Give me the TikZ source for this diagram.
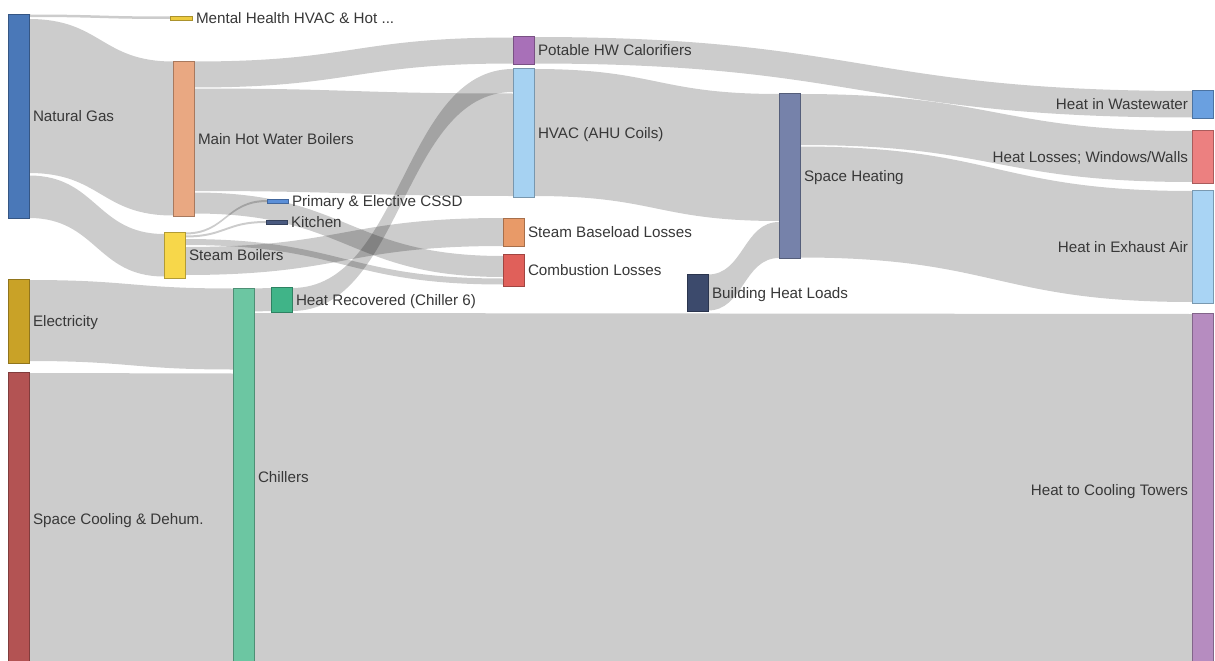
\documentclass[tikz,border=0pt]{standalone}
\usepackage{fontspec}
\setmainfont{Liberation Sans}
\usetikzlibrary{calc}
\definecolor{cNG}{HTML}{4A78B8}
\definecolor{cEL}{HTML}{C9A227}
\definecolor{cSC}{HTML}{B35353}
\definecolor{cMH}{HTML}{EDCB3E}
\definecolor{cMHWB}{HTML}{E9A882}
\definecolor{cSB}{HTML}{F7D74A}
\definecolor{cCH}{HTML}{6CC6A2}
\definecolor{cCSSD}{HTML}{5B8FD8}
\definecolor{cKIT}{HTML}{4A5A80}
\definecolor{cHR}{HTML}{40B488}
\definecolor{cPHW}{HTML}{A870B8}
\definecolor{cHVAC}{HTML}{A6D2F2}
\definecolor{cSBL}{HTML}{E89A68}
\definecolor{cCL}{HTML}{E0605A}
\definecolor{cBHL}{HTML}{3C4A6C}
\definecolor{cSH}{HTML}{7682AA}
\definecolor{cWW}{HTML}{6AA0E0}
\definecolor{cHL}{HTML}{EC8080}
\definecolor{cEA}{HTML}{A9D4F4}
\definecolor{cHCT}{HTML}{B68CC0}
\definecolor{cTXT}{HTML}{383838}
\tikzset{
  sbox/.style={rectangle, inner sep=0pt, outer sep=0pt, line width=0.8pt},
  flow/.style={fill=black, fill opacity=0.2},
  lbl/.style={inner sep=0pt, outer sep=0pt, text=cTXT, font=\fontsize{15.2}{18}\selectfont, text height=13pt, text depth=2pt},
}
% node: name, x left, y top, width, height, colour
\newcommand{\nd}[6]{\node[sbox, fill=#6, draw=#6!72!black, minimum width=#4pt, minimum height=#5pt, anchor=north west] (#1) at (#2,#3) {};}
% flow: source, offset from source top, width, target, offset from target top
\newcommand{\lnk}[5]{%
  \fill[flow] let \p1=($(#1.north east)+(0,#2)$), \p2=($(#4.north west)+(0,#5)$), \n1={0.5*(\x1+\x2)} in
    (\x1,\y1) .. controls (\n1,\y1) and (\n1,\y2) .. (\x2,\y2)
    -- (\x2,{\y2-#3pt}) .. controls (\n1,{\y2-#3pt}) and (\n1,{\y1-#3pt}) .. (\x1,{\y1-#3pt}) -- cycle;}
\begin{document}
\begin{tikzpicture}[x=1pt,y=-1pt]
\useasboundingbox (0,0) rectangle (1215,661);
\fill[white] (0,0) rectangle (1215,661);
\clip (0,0) rectangle (1215,661);
% nodes (positions)
\nd{ng}{8}{14}{21}{204}{cNG}
\nd{el}{8}{279}{21}{84}{cEL}
\nd{sc}{8}{372}{21}{294}{cSC}
\nd{mh}{170}{16}{22}{4}{cMH}
\nd{mhwb}{173}{61}{21}{155}{cMHWB}
\nd{sb}{164}{232}{21}{46}{cSB}
\nd{ch}{233}{288}{21}{378}{cCH}
\nd{cssd}{267}{199}{21}{4}{cCSSD}
\nd{kit}{266}{220}{21}{4}{cKIT}
\nd{hr}{271}{287}{21}{25}{cHR}
\nd{phw}{513}{36}{21}{28}{cPHW}
\nd{hvac}{513}{68}{21}{129}{cHVAC}
\nd{sbl}{503}{218}{21}{28}{cSBL}
\nd{cl}{503}{254}{21}{32}{cCL}
\nd{bhl}{687}{274}{21}{37}{cBHL}
\nd{sh}{779}{93}{21}{165}{cSH}
\nd{ww}{1192}{90}{21}{28}{cWW}
\nd{hl}{1192}{130}{21}{53}{cHL}
\nd{ea}{1192}{190}{21}{113}{cEA}
\nd{hct}{1192}{313}{21}{353}{cHCT}
% flows
\lnk{ng}{0.5}{2.5}{mh}{0.5}
\lnk{ng}{5}{154}{mhwb}{0.5}
\lnk{ng}{161.5}{42.5}{sb}{2}
\lnk{mhwb}{0.5}{26}{phw}{1.5}
\lnk{mhwb}{27.5}{102.5}{hvac}{25.5}
\lnk{mhwb}{131.5}{21}{cl}{2}
\lnk{sb}{0.5}{2}{cssd}{1}
\lnk{sb}{3.5}{2}{kit}{1}
\lnk{sb}{7}{6}{cl}{24.5}
\lnk{sb}{15}{28}{sbl}{0}
\lnk{el}{1}{81}{ch}{0.5}
\lnk{sc}{1}{400}{ch}{85.5}
\lnk{ch}{0.5}{23}{hr}{1}
\lnk{ch}{25}{400}{hct}{1}
\lnk{hr}{1}{23}{hvac}{1}
\lnk{hvac}{1}{127}{sh}{1}
\lnk{bhl}{0.5}{36}{sh}{129}
\lnk{phw}{1}{26.5}{ww}{1}
\lnk{sh}{1}{51}{hl}{1}
\lnk{sh}{53.5}{111}{ea}{1}
% redraw nodes on top of flows
\foreach \n/\c in {ng/cNG,el/cEL,sc/cSC,mh/cMH,mhwb/cMHWB,sb/cSB,ch/cCH,cssd/cCSSD,kit/cKIT,hr/cHR,phw/cPHW,hvac/cHVAC,sbl/cSBL,cl/cCL,bhl/cBHL,sh/cSH,ww/cWW,hl/cHL,ea/cEA,hct/cHCT}
  \draw[fill=\c, draw=\c!72!black, line width=0.8pt] (\n.north west) rectangle (\n.south east);
% labels
\node[lbl, anchor=west] (t-ng) at ([xshift=4pt]ng.east) {Natural Gas};
\node[lbl, anchor=west] (t-el) at ([xshift=4pt]el.east) {Electricity};
\node[lbl, anchor=west] (t-sc) at ([xshift=4pt]sc.east) {Space Cooling \& Dehum.};
\node[lbl, anchor=west] (t-mh) at ([xshift=4pt]mh.east) {Mental Health HVAC \& Hot ...};
\node[lbl, anchor=west] (t-mhwb) at ([xshift=4pt]mhwb.east) {Main Hot Water Boilers};
\node[lbl, anchor=west] (t-sb) at ([xshift=4pt]sb.east) {Steam Boilers};
\node[lbl, anchor=west] (t-ch) at ([xshift=4pt]ch.east) {Chillers};
\node[lbl, anchor=west] (t-cssd) at ([xshift=4pt]cssd.east) {Primary \& Elective CSSD};
\node[lbl, anchor=west] (t-kit) at ([xshift=4pt]kit.east) {Kitchen};
\node[lbl, anchor=west] (t-hr) at ([xshift=4pt]hr.east) {Heat Recovered (Chiller 6)};
\node[lbl, anchor=west] (t-phw) at ([xshift=4pt]phw.east) {Potable HW Calorifiers};
\node[lbl, anchor=west] (t-hvac) at ([xshift=4pt]hvac.east) {HVAC (AHU Coils)};
\node[lbl, anchor=west] (t-sbl) at ([xshift=4pt]sbl.east) {Steam Baseload Losses};
\node[lbl, anchor=west] (t-cl) at ([xshift=4pt]cl.east) {Combustion Losses};
\node[lbl, anchor=west] (t-bhl) at ([xshift=4pt]bhl.east) {Building Heat Loads};
\node[lbl, anchor=west] (t-sh) at ([xshift=4pt]sh.east) {Space Heating};
\node[lbl, anchor=east] (t-ww) at ([xshift=-4pt]ww.west) {Heat in Wastewater};
\node[lbl, anchor=east] (t-hl) at ([xshift=-4pt]hl.west) {Heat Losses; Windows/Walls};
\node[lbl, anchor=east] (t-ea) at ([xshift=-4pt]ea.west) {Heat in Exhaust Air};
\node[lbl, anchor=east] (t-hct) at ([xshift=-4pt]hct.west) {Heat to Cooling Towers};
\end{tikzpicture}
\end{document}
